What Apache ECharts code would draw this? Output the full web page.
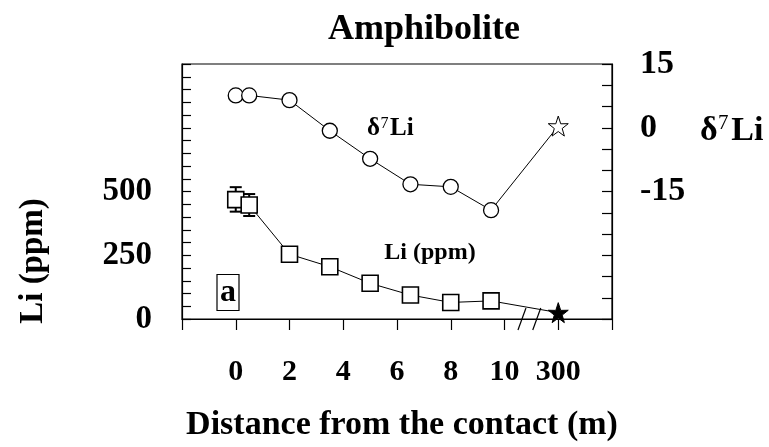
<!DOCTYPE html>
<html>
<head>
<meta charset="utf-8">
<script src="https://cdn.jsdelivr.net/npm/echarts@6/dist/echarts.min.js"></script>
<style>html,body{margin:0;padding:0;background:#fff}#c{width:769px;height:447px}</style>
</head>
<body>
<div id="c"></div>
<script>
// distance (m) on a broken axis: 12 stands for the 300 m sample
const distance = [0, 0.5, 2, 3.5, 5, 6.5, 8, 9.5, 12];
const d7Li = [7.6, 7.6, 6.5, -0.7, -7.3, -13.3, -13.9, -19.4, 0.4];
const liPpm = [468, 447, 254, 205, 140, 94, 65, 71, 25];
const errX = [0, 0.5];
const errLow = [421, 404];
const errHigh = [517, 490];
const xTickValues = [0, 2, 4, 6, 8, 10, 12];
const xTickLabels = ['0', '2', '4', '6', '8', '10', '300'];
const leftTickLabels = [0, 250, 500];
const rightTickLabels = [-15, 0, 15];
const STAR_INDEX = 8;

const FONT = 'Liberation Serif';
const starPath = 'path://M50,0 L61.8,35.1 L98.1,34.5 L69,56.4 L79.4,90.5 L50,70 L20.6,90.5 L31,56.4 L1.9,34.5 L38.2,35.1 Z';

const chart = echarts.init(document.getElementById('c'), null, {renderer: 'canvas'});

const d7Data = distance.map((x, i) => i === STAR_INDEX
  ? {value: [x, d7Li[i]], symbol: starPath, symbolSize: 20, itemStyle: {color: '#fff', borderColor: '#000', borderWidth: 1}}
  : [x, d7Li[i]]);
const liData = distance.map((x, i) => i === STAR_INDEX
  ? {value: [x, liPpm[i]], symbol: starPath, symbolSize: 20, itemStyle: {color: '#000', borderColor: '#000', borderWidth: 1}}
  : [x, liPpm[i]]);
const errData = errX.map((x, i) => [x, errLow[i], errHigh[i]]);

function deltaLabel(id, x, y, size) {
  // δ, raised 7, Li drawn as three pieces
  const dW = size * 0.5, sW = size * 0.42;
  return {id: id, type: 'group', x: x, y: y, children: [
    {type: 'text', x: 0, y: 0, style: {text: 'δ', font: 'bold ' + size + 'px "Liberation Serif"', fill: '#000', textVerticalAlign: 'middle'}},
    {type: 'text', x: dW + 1, y: -size * 0.22, style: {text: '7', font: (size * 0.62).toFixed(0) + 'px "Liberation Serif"', fill: '#000', textVerticalAlign: 'middle'}},
    {type: 'text', x: dW + sW, y: 0, style: {text: 'Li', font: 'bold ' + size + 'px "Liberation Serif"', fill: '#000', textVerticalAlign: 'middle'}}
  ]};
}

const texts = [
  {id: 'title', type: 'text', x: 424, y: 30, style: {text: 'Amphibolite', font: 'bold 36px "Liberation Serif"', fill: '#000', textAlign: 'center', textVerticalAlign: 'middle'}},
  {id: 'xname', type: 'text', x: 402, y: 425, style: {text: 'Distance from the contact (m)', font: 'bold 34px "Liberation Serif"', fill: '#000', textAlign: 'center', textVerticalAlign: 'middle'}},
  {id: 'yname', type: 'text', x: 33, y: 261, rotation: Math.PI / 2, style: {text: 'Li (ppm)', font: 'bold 33px "Liberation Serif"', fill: '#000', textAlign: 'center', textVerticalAlign: 'middle'}},
  deltaLabel('y2name', 700, 131, 34),
  deltaLabel('lab1', 367, 129, 25),
  {id: 'lab2', type: 'text', x: 430, y: 253, style: {text: 'Li (ppm)', font: 'bold 24px "Liberation Serif"', fill: '#000', textAlign: 'center', textVerticalAlign: 'middle'}},
  {id: 'abox', type: 'rect', shape: {x: 217, y: 274.5, width: 22, height: 36}, style: {fill: '#fff', stroke: '#000', lineWidth: 1.2}},
  {id: 'atext', type: 'text', x: 228, y: 293, style: {text: 'a', font: 'bold 32px "Liberation Serif"', fill: '#000', textAlign: 'center', textVerticalAlign: 'middle'}}
];

const option = {
  animation: false,
  backgroundColor: '#fff',
  grid: {left: 182, right: 157, top: 64, bottom: 128, show: true, borderColor: '#000', borderWidth: 1.2},
  xAxis: {
    type: 'value', min: -2, max: 14, interval: 2,
    axisLine: {show: true, onZero: false, lineStyle: {color: '#000', width: 1.2}},
    axisTick: {show: true, inside: false, length: 11, lineStyle: {color: '#000', width: 1.2}},
    axisLabel: {
      margin: 38, color: '#000', fontFamily: FONT, fontWeight: 'bold', fontSize: 30,
      formatter: v => { const k = xTickValues.indexOf(v); return k >= 0 ? xTickLabels[k] : ''; }
    },
    splitLine: {show: false}
  },
  yAxis: [{
    type: 'value', min: 0, max: 1000, interval: 50, position: 'left',
    axisLine: {show: true, onZero: false, lineStyle: {color: '#000', width: 1.2}},
    axisTick: {show: true, inside: true, length: 9, lineStyle: {color: '#000', width: 1.2}},
    axisLabel: {
      margin: 30, color: '#000', fontFamily: FONT, fontWeight: 'bold', fontSize: 33, padding: [6, 0, 0, 0],
      formatter: v => leftTickLabels.indexOf(v) >= 0 ? String(v) : ''
    },
    splitLine: {show: false}
  }, {
    type: 'value', min: -45, max: 15, interval: 5, position: 'right',
    axisLine: {show: true, onZero: false, lineStyle: {color: '#000', width: 1.2}},
    axisTick: {show: true, inside: true, length: 10, lineStyle: {color: '#000', width: 1.2}},
    axisLabel: {
      margin: 28, color: '#000', fontFamily: FONT, fontWeight: 'bold', fontSize: 34,
      formatter: v => rightTickLabels.indexOf(v) >= 0 ? String(v) : ''
    },
    splitLine: {show: false}
  }],
  series: [{
    type: 'custom', xAxisIndex: 0, yAxisIndex: 0, z: 1,
    data: errData,
    renderItem: (params, api) => {
      const x = api.value(0);
      const lo = api.coord([x, api.value(1)]);
      const hi = api.coord([x, api.value(2)]);
      const w = 6;
      const st = {stroke: '#000', lineWidth: 2};
      return {type: 'group', children: [
        {type: 'line', shape: {x1: lo[0], y1: lo[1], x2: hi[0], y2: hi[1]}, style: st},
        {type: 'line', shape: {x1: hi[0] - w, y1: hi[1], x2: hi[0] + w, y2: hi[1]}, style: st},
        {type: 'line', shape: {x1: lo[0] - w, y1: lo[1], x2: lo[0] + w, y2: lo[1]}, style: st}
      ]};
    }
  }, {
    type: 'line', name: 'd7Li', yAxisIndex: 1, z: 3,
    data: d7Data,
    symbol: 'circle', symbolSize: 15,
    lineStyle: {color: '#000', width: 1},
    itemStyle: {color: '#fff', borderColor: '#000', borderWidth: 1.3}
  }, {
    type: 'line', name: 'Li', yAxisIndex: 0, z: 3,
    data: liData,
    symbol: 'rect', symbolSize: 16,
    lineStyle: {color: '#000', width: 1},
    itemStyle: {color: '#fff', borderColor: '#000', borderWidth: 1.6}
  }],
  graphic: texts
};
chart.setOption(option);

// axis break marks between 10 and 300
const axisY = chart.convertToPixel({xAxisIndex: 0, yAxisIndex: 0}, [0, 0])[1];
const b1 = chart.convertToPixel({xAxisIndex: 0, yAxisIndex: 0}, [10.65, 0])[0];
const b2 = chart.convertToPixel({xAxisIndex: 0, yAxisIndex: 0}, [11.2, 0])[0];
chart.setOption({graphic: texts.concat([
  {id: 'brk1', type: 'line', shape: {x1: b1 - 4, y1: axisY + 11, x2: b1 + 4, y2: axisY - 11}, style: {stroke: '#000', lineWidth: 1.2}, z: 10},
  {id: 'brk2', type: 'line', shape: {x1: b2 - 4, y1: axisY + 11, x2: b2 + 4, y2: axisY - 11}, style: {stroke: '#000', lineWidth: 1.2}, z: 10}
])});
</script>
</body>
</html>
